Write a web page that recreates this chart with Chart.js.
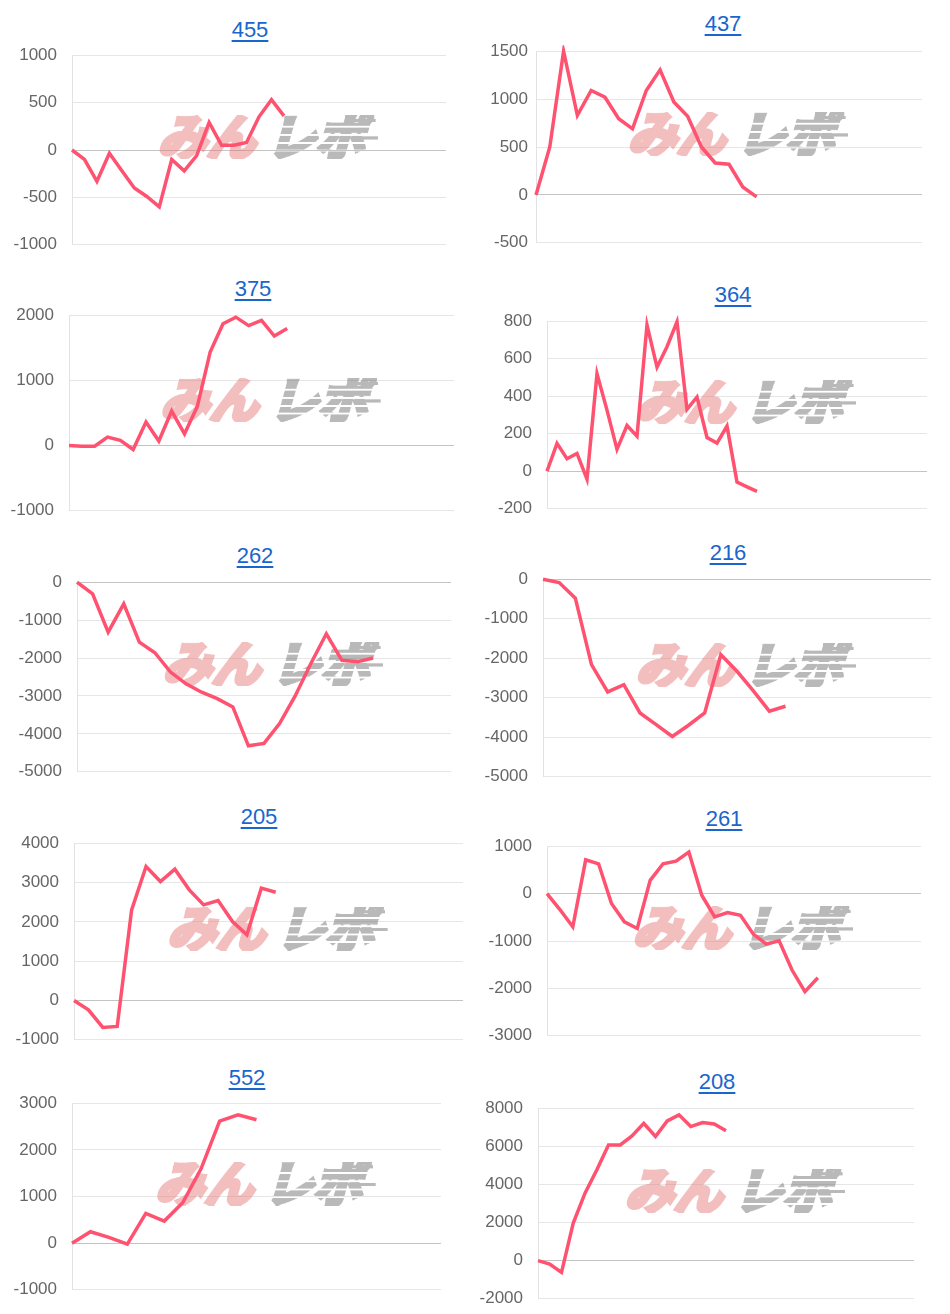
<!DOCTYPE html>
<html>
<head>
<meta charset="utf-8">
<script src="https://cdn.jsdelivr.net/npm/chart.js@4.4.1/dist/chart.umd.min.js"></script>
<style>
    body { margin: 0; background: #fff; width: 950px; height: 1314px; position: relative; overflow: hidden; font-family: 'Liberation Sans', Arial, sans-serif; }
    .panel-title { position: absolute; width: 120px; text-align: center; font-size: 22px; line-height: 22px; }
    .panel-title a { color: #1a66cc; text-decoration: underline; text-decoration-thickness: 2px; text-underline-offset: 3px; }
    canvas { position: absolute; }
</style>
</head>
<body>
<script>
// 各グラフのタイトル
const titles = ['455', '437', '375', '364', '262', '216', '205', '261', '552', '208'];
// x軸のラベル数（非表示）
const labelCounts = [31, 29, 31, 39, 25, 25, 28, 30, 21, 33];
// y軸の目盛り
const yMins = [-1000, -500, -1000, -200, -5000, -5000, -1000, -3000, -1000, -2000];
const yMaxs = [1000, 1500, 2000, 800, 0, 0, 4000, 1000, 3000, 8000];
const ySteps = [500, 500, 1000, 200, 1000, 1000, 1000, 1000, 1000, 2000];

// 差枚の推移
const s455 = [0, -100, -330, -35, -220, -400, -490, -600, -100, -220, -60, 290, 50, 50, 80, 350, 530, 360];
const s437 = [0, 500, 1500, 830, 1090, 1020, 795, 690, 1090, 1305, 970, 820, 500, 333, 320, 83, -20];
const s375 = [0, -10, -10, 130, 80, -60, 360, 70, 530, 180, 600, 1435, 1870, 1970, 1840, 1920, 1680, 1795];
const s364 = [0, 149, 67, 95, -42, 520, 326, 117, 244, 187, 780, 555, 664, 797, 330, 396, 180, 150, 241, -58, -83, -107];
const s262 = [0, -307, -1316, -570, -1580, -1860, -2370, -2680, -2900, -3070, -3290, -4315, -4250, -3730, -3000, -2150, -1360, -2060, -2100, -2000];
const s216 = [0, -84, -480, -2163, -2853, -2668, -3384, -3678, -3981, -3695, -3384, -1910, -2330, -2820, -3340, -3215];
const s205 = [0, -237, -686, -661, 2305, 3407, 3025, 3339, 2813, 2432, 2542, 2008, 1669, 2856, 2754];
const s261 = [0, -336, -700, 713, 629, -210, -595, -735, 280, 629, 685, 874, -35, -490, -400, -456, -855, -1066, -996, -1613, -2068, -1774];
const s552 = [0, 245, 125, -20, 637, 473, 865, 1598, 2616, 2751, 2644];
const s208 = [0, -175, -612, 1970, 3540, 4760, 6075, 6075, 6550, 7210, 6515, 7330, 7650, 7035, 7245, 7175, 6815];
const allSeries = [s455, s437, s375, s364, s262, s216, s205, s261, s552, s208];

// 配置（プロット領域の左右上下とタイトル中心）
const panels = [
    { axisX: 72, right: 446, top: 55, bottom: 245, tx: 250, ty: 30, pad: 15 },
    { axisX: 536, right: 922, top: 51, bottom: 243, tx: 723, ty: 24, pad: 8 },
    { axisX: 69, right: 454, top: 315, bottom: 511, tx: 253, ty: 289, pad: 15 },
    { axisX: 547, right: 927, top: 321, bottom: 509, tx: 733, ty: 295, pad: 15 },
    { axisX: 77, right: 451, top: 582, bottom: 772, tx: 255, ty: 556, pad: 15 },
    { axisX: 543, right: 931, top: 579, bottom: 777, tx: 728, ty: 553, pad: 15 },
    { axisX: 74, right: 463, top: 843, bottom: 1040, tx: 259, ty: 817, pad: 15 },
    { axisX: 547, right: 921, top: 846, bottom: 1036, tx: 724, ty: 819, pad: 15 },
    { axisX: 72, right: 441, top: 1103, bottom: 1290, tx: 247, ty: 1078, pad: 15 },
    { axisX: 538, right: 914, top: 1108, bottom: 1299, tx: 717, ty: 1082, pad: 15 }
];

const Y_W = 65;
const PAD_R = 2;

// ウォーターマーク（みんレポ）をオフスクリーンで作る
function buildWatermark() {
    const c = document.createElement('canvas');
    const g = c.getContext('2d');
    const font = "bold 78px 'Noto Sans CJK JP'";
    g.font = font;
    const w1 = g.measureText('みん').width;
    const w2 = g.measureText('レポ').width;
    c.width = Math.ceil(w1 + w2 + 70);
    c.height = 70;
    g.font = font;
    g.lineJoin = 'miter';
    g.setTransform(1, 0, -0.28, 1, 22, 0);
    g.fillStyle = g.strokeStyle = 'rgb(228, 120, 120)';
    g.lineWidth = 7;
    g.strokeText('みん', 0, 64);
    g.fillText('みん', 0, 64);
    g.fillStyle = g.strokeStyle = 'rgb(110, 110, 110)';
    g.strokeText('レポ', w1 + 18, 64);
    g.fillText('レポ', w1 + 18, 64);
    g.setTransform(1, 0, 0, 1, 0, 0);
    // レポ部分のスピード線
    g.globalCompositeOperation = 'destination-out';
    g.fillStyle = '#000';
    [17, 30, 43, 55].forEach(y => g.fillRect(w1 + 14, y, w2 + 60, 3));
    g.globalCompositeOperation = 'source-over';
    g.fillStyle = 'rgb(110, 110, 110)';
    g.fillRect(w1 + w2 - 6, 6, 46, 5);
    g.fillRect(w1 + w2 + 8, 34, 36, 5);
    return c;
}
const watermark = buildWatermark();

const watermarkPlugin = {
    id: 'watermark',
    beforeDatasetsDraw(chart) {
        const a = chart.chartArea;
        const cx = (a.left + a.right) / 2 + 16;
        const cy = (a.top + a.bottom) / 2 - 13;
        const ctx = chart.ctx;
        ctx.save();
        ctx.globalAlpha = 0.48;
        ctx.drawImage(watermark, cx - 120, cy - 22, 240, 44);
        ctx.restore();
    }
};

function makeChart(canvas, idx, w, h) {
    const p = panels[idx];
    const labels = Array.from({ length: labelCounts[idx] }, (_, i) => i + 1);
    canvas.width = w;
    canvas.height = h;
    canvas.style.width = w + 'px';
    canvas.style.height = h + 'px';
    return new Chart(canvas.getContext('2d'), {
        type: 'line',
        data: {
            labels,
            datasets: [{
                data: allSeries[idx],
                borderColor: 'rgb(255, 82, 112)',
                borderWidth: 3.5,
                pointRadius: 0,
                tension: 0,
                fill: false,
                clip: 6
            }]
        },
        options: {
            responsive: false,
            maintainAspectRatio: false,
            animation: false,
            devicePixelRatio: 1,
            layout: { padding: { top: 0, bottom: 0, left: 0, right: PAD_R } },
            plugins: {
                legend: { display: false },
                tooltip: { enabled: false }
            },
            scales: {
                x: { display: false },
                y: {
                    min: yMins[idx],
                    max: yMaxs[idx],
                    afterFit(scale) { scale.width = Y_W; },
                    border: { color: '#e2e2e2' },
                    grid: {
                        drawTicks: false,
                        color: ctx => ctx.tick && ctx.tick.value === 0 ? '#c4c4c4' : '#e6e6e6'
                    },
                    ticks: {
                        stepSize: ySteps[idx],
                        padding: p.pad,
                        color: '#666',
                        font: { family: "'Liberation Sans', Arial, sans-serif", size: 17 },
                        callback: v => String(v)
                    }
                }
            }
        },
        plugins: [watermarkPlugin]
    });
}

function renderPanel(idx) {
    const p = panels[idx];

    // タイトル
    const t = document.createElement('div');
    t.className = 'panel-title';
    t.style.left = (p.tx - 60) + 'px';
    t.style.top = (p.ty - 11) + 'px';
    t.innerHTML = `<a href="#">${titles[idx]}</a>`;
    document.body.appendChild(t);

    const canvas = document.createElement('canvas');
    document.body.appendChild(canvas);
    const w = Y_W + (p.right - p.axisX) + PAD_R;
    const plotH = p.bottom - p.top;

    // 一度描いて上下の余白を測り、プロット領域の高さを合わせる
    let h = plotH + 40;
    let chart = makeChart(canvas, idx, w, h);
    const offTop = chart.chartArea.top;
    const offBottom = h - chart.chartArea.bottom;
    chart.destroy();
    h = Math.round(plotH + offTop + offBottom);
    chart = makeChart(canvas, idx, w, h);
    canvas.style.left = (p.axisX - Y_W) + 'px';
    canvas.style.top = (p.top - chart.chartArea.top) + 'px';
}

titles.forEach((_, idx) => renderPanel(idx));
</script>
</body>
</html>
